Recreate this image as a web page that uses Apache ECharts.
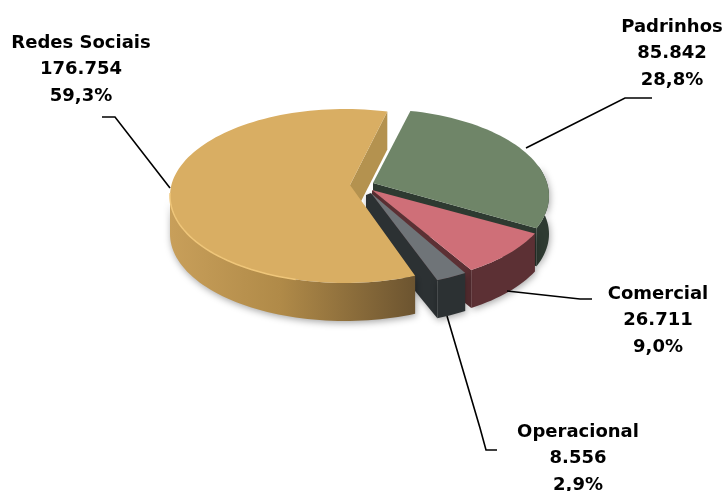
<!DOCTYPE html>
<html>
<head>
<meta charset="utf-8">
<style>html,body{margin:0;padding:0;background:#fff}#c{width:725px;height:491px}</style>
<script src="https://cdn.jsdelivr.net/npm/echarts@6/dist/echarts.min.js"></script>
</head>
<body>
<div id="c"></div>
<script>
const categories = ['Padrinhos', 'Comercial', 'Operacional', 'Redes Sociais'];
const seriesValues = [85842, 26711, 8556, 176754];
const topColors = ['#6f8568', '#cf6f78', '#6f7478', '#d9ae63'];
const wallColors = ['#2e3a31', '#5c3034', '#2c3133', '#a98343'];

const START = 11, RX = 175, RY = 87, DEPTH = 38;
const geometry = [
  { cx: 374, cy: 196, ax: 373, ay: 183, cutLeft: 0, adjA: 1, adjB: -3 },
  { cx: 376, cy: 197, ax: 372, ay: 190, cutLeft: 0, adjA: 0, adjB: 0 },
  { cx: 370, cy: 200, ax: 371, ay: 193, cutLeft: 5, adjA: 0, adjB: 0 },
  { cx: 345, cy: 196, ax: 350, ay: 185, cutLeft: 0, adjA: -1, adjB: 3 }
];
const labelLayout = [
  { x: 672, y: 27, line: [[526, 148], [625, 98], [652, 98]] },
  { x: 658, y: 294, line: [[507, 291], [580, 299], [592, 299]] },
  { x: 578, y: 432, line: [[447, 316], [480, 428], [486, 450], [497, 450]] },
  { x: 81, y: 43, line: [[170, 188], [115, 117], [102, 117]] }
];
const LINE_H = 26.5;

const total = seriesValues.reduce((a, b) => a + b, 0);
const angles = [];
seriesValues.reduce((acc, v, i) => {
  const next = acc + v / total * 360;
  angles.push([acc + geometry[i].adjA, next + geometry[i].adjB]);
  return next;
}, START);

function pt(g, deg, dy) {
  const r = deg * Math.PI / 180;
  return [g.cx + RX * Math.sin(r), g.cy - RY * Math.cos(r) + (dy || 0)];
}
function arc(g, a, b, dy) {
  const out = [];
  for (let d = a; d < b; d += 2) out.push(pt(g, d, dy));
  out.push(pt(g, b, dy));
  return out;
}
const fmtValue = v => String(v).replace(/\B(?=(\d{3})+$)/g, '.');
const fmtPct = v => (v / total * 100).toFixed(1).replace('.', ',') + '%';

function poly(points, fill, extra) {
  return { type: 'polygon', silent: true, shape: { points: points },
    style: Object.assign({ fill: fill }, extra || {}) };
}

function renderItem(params) {
  const i = params.dataIndex, g = geometry[i], [a, b] = angles[i];
  const children = [];
  const shadow = { shadowBlur: 7, shadowColor: 'rgba(0,0,0,0.35)', shadowOffsetX: 1, shadowOffsetY: 2 };

  // cut wall seen from the front
  if (i === 0 || i === 1) {
    const e = pt(g, b);
    children.push(poly([[g.ax, g.ay], e, [e[0], e[1] + DEPTH], [g.ax, g.ay + DEPTH]], wallColors[i]));
  }
  if (i === 2) {
    const s = pt(g, b);
    children.push(poly([[g.ax, g.ay], [g.ax - g.cutLeft, g.ay + 2], [g.ax - g.cutLeft, g.ay + DEPTH], [s[0], s[1] + DEPTH], s], wallColors[i], shadow));
  }
  if (i === 3) {
    const e = pt(g, b);
    children.push(poly([[g.ax, g.ay], e, [e[0], e[1] + DEPTH], [g.ax, g.ay + DEPTH]], '#b4924f'));
  }

  // outer wall
  const wa = Math.max(a, i === 0 ? 70 : 90), wb = Math.min(b, 270);
  if (wb > wa) {
    const fill = i === 3
      ? new echarts.graphic.LinearGradient(0, 0, 1, 0, [
          { offset: 0, color: '#c89f5a' },
          { offset: 0.45, color: '#b08a48' },
          { offset: 1, color: '#6c5430' }])
      : wallColors[i];
    children.push(poly(arc(g, wa, wb, 0).concat(arc(g, wa, wb, DEPTH).reverse()), fill, shadow));
  }

  // top face
  children.push(poly([[g.ax, g.ay]].concat(arc(g, a, b, 0)), topColors[i]));

  if (i === 3) {
    children.push({ type: 'polyline', silent: true,
      shape: { points: arc(g, a + 40, 272, 0) },
      style: { stroke: '#efc67a', lineWidth: 1.5, fill: null } });
  }

  // leader line
  const L = labelLayout[i];
  children.push({ type: 'polyline', silent: true, shape: { points: L.line },
    style: { stroke: '#000', lineWidth: 1.6, fill: null } });

  // label
  [categories[i], fmtValue(seriesValues[i]), fmtPct(seriesValues[i])].forEach((t, k) => {
    children.push({ type: 'text', silent: true, x: L.x, y: L.y + k * LINE_H,
      style: { text: t, fill: '#000', font: 'bold 18px "DejaVu Sans", sans-serif', align: 'center', verticalAlign: 'middle' } });
  });
  return { type: 'group', children: children };
}

const chart = echarts.init(document.getElementById('c'), null, { renderer: 'canvas' });
chart.setOption({
  animation: false,
  backgroundColor: '#fff',
  series: [{
    type: 'custom',
    coordinateSystem: 'none',
    renderItem: renderItem,
    data: categories.map((n, i) => ({ name: n, value: seriesValues[i] }))
  }]
});
</script>
</body>
</html>
